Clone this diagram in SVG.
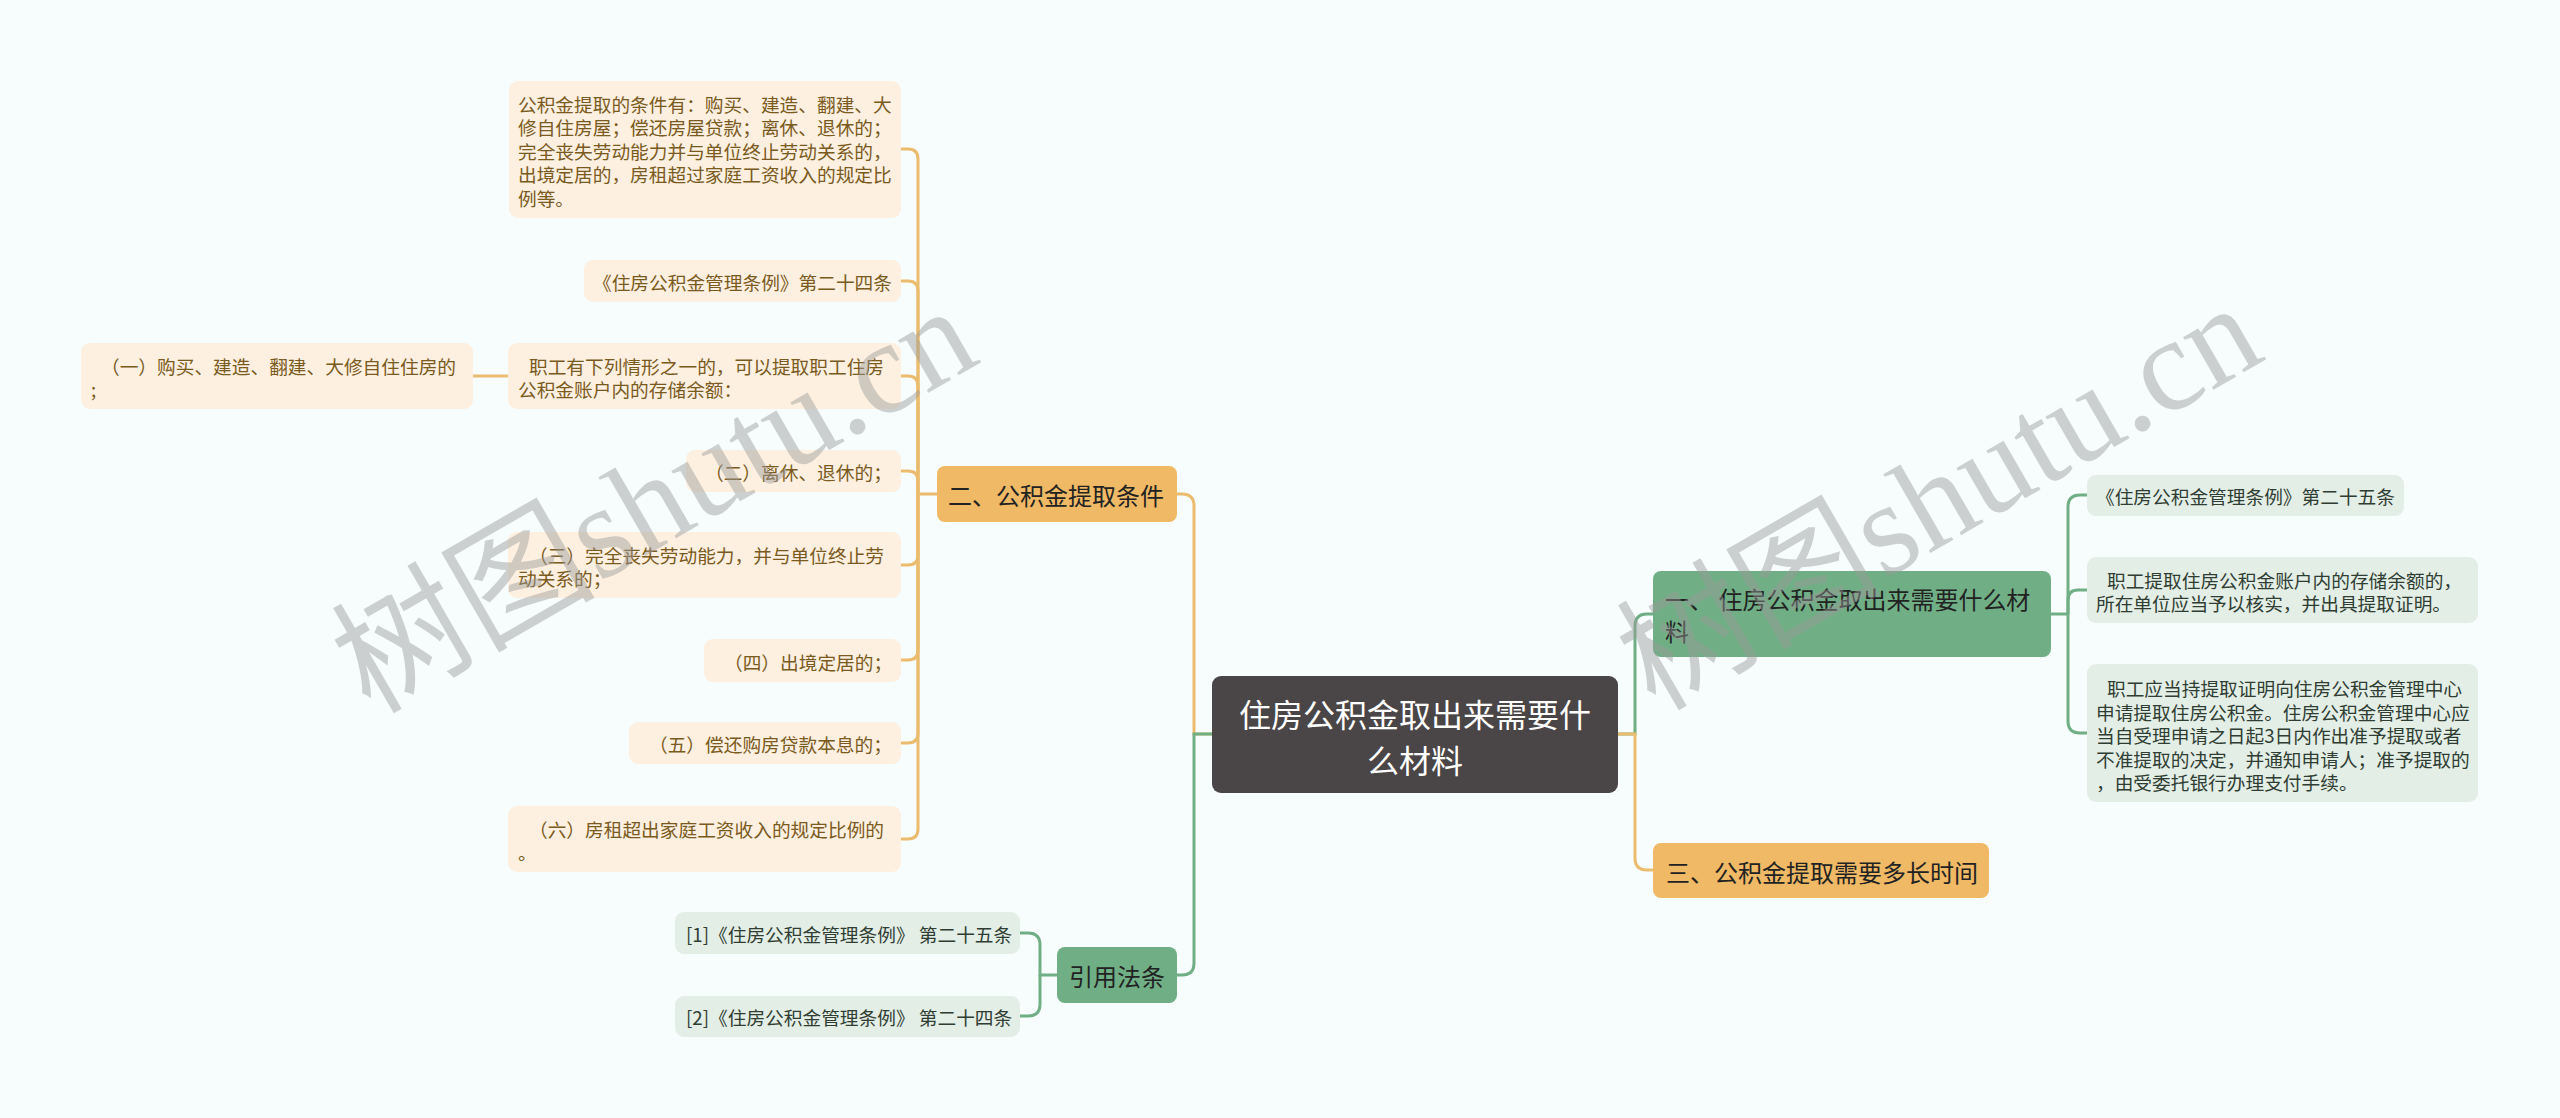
<svg xmlns="http://www.w3.org/2000/svg" width="2560" height="1118" viewBox="0 0 2560 1118">
<style>
text{font-family:"Noto Sans CJK SC","Noto Sans",sans-serif;dominant-baseline:central}
.lo{fill:#fdf0e0}
.lg{fill:#e3eee6}
.to{fill:#7b5a20;font-size:18.7px}
.tg{fill:#2f3d33;font-size:18.7px}
.t1{fill:#222;font-size:24px}
.co{fill:none;stroke:#ebbb6e;stroke-width:3}
.cg{fill:none;stroke:#70af85;stroke-width:3}
.wm{font-family:"Liberation Serif","Noto Sans CJK SC",serif;font-size:132px;fill:#9a9a9a;opacity:0.45;dominant-baseline:alphabetic}
</style>
<rect width="2560" height="1118" fill="#f7fcfc"/>
<g id="connectors">
<path class="co" d="M937,494 H918"/>
<path class="co" d="M918,494 V159 Q918,149 908,149 H901"/>
<path class="co" d="M918,494 V291 Q918,281 908,281 H901"/>
<path class="co" d="M918,494 V386 Q918,376 908,376 H901"/>
<path class="co" d="M918,494 V481 Q918,471 908,471 H901"/>
<path class="co" d="M918,494 V555 Q918,565 908,565 H901"/>
<path class="co" d="M918,494 V650 Q918,660 908,660 H901"/>
<path class="co" d="M918,494 V733 Q918,743 908,743 H901"/>
<path class="co" d="M918,494 V829 Q918,839 908,839 H901"/>
<path class="co" d="M473,376 H508"/>
<path class="co" d="M1212,734 H1194 V506 Q1194,494 1182,494 H1177"/>
<path class="cg" d="M1212,734 H1194 V963 Q1194,975 1182,975 H1177"/>
<path class="cg" d="M1057,975 H1040 V945 Q1040,933 1028,933 H1020"/>
<path class="cg" d="M1040,975 V1004 Q1040,1016 1028,1016 H1020"/>
<path class="cg" d="M1618,734 H1635 V626 Q1635,614 1647,614 H1653"/>
<path class="co" d="M1618,734 H1635 V858 Q1635,870 1647,870 H1653"/>
<path class="cg" d="M2051,614 H2068"/>
<path class="cg" d="M2068,614 V507 Q2068,495 2080,495 H2087"/>
<path class="cg" d="M2068,614 V600 Q2068,590 2078,590 H2087"/>
<path class="cg" d="M2068,614 V721 Q2068,733 2080,733 H2087"/>
</g>
<g id="root">
<rect x="1212" y="676" width="406" height="117" rx="9" fill="#4a4546"/>
<text x="1415" y="713" text-anchor="middle" fill="#fff" font-size="32">住房公积金取出来需要什</text>
<text x="1415" y="759" text-anchor="middle" fill="#fff" font-size="32">么材料</text>
</g>
<g id="n-tiaojian">
<rect x="937" y="466" width="240" height="56" rx="8" fill="#f0b965"/>
<text class="t1" x="948" y="494">二、公积金提取条件</text>
</g>
<g id="n-c1">
<rect class="lo" x="509" y="81" width="392" height="137" rx="9"/>
<text class="to" x="518" y="103">公积金提取的条件有：购买、建造、翻建、大</text>
<text class="to" x="518" y="126.5">修自住房屋；偿还房屋贷款；离休、退休的；</text>
<text class="to" x="518" y="150">完全丧失劳动能力并与单位终止劳动关系的，</text>
<text class="to" x="518" y="173.5">出境定居的，房租超过家庭工资收入的规定比</text>
<text class="to" x="518" y="197">例等。</text>
</g>
<g id="n-c2">
<rect class="lo" x="584" y="260" width="317" height="42" rx="9"/>
<text class="to" x="593" y="281">《住房公积金管理条例》第二十四条</text>
</g>
<g id="n-c3">
<rect class="lo" x="508" y="343" width="393" height="66" rx="9"/>
<text class="to" x="529" y="365">职工有下列情形之一的，可以提取职工住房</text>
<text class="to" x="518" y="388.5">公积金账户内的存储余额：</text>
</g>
<g id="n-c3a">
<rect class="lo" x="81" y="343" width="392" height="66" rx="9"/>
<text class="to" x="101" y="365">（一）购买、建造、翻建、大修自住住房的</text>
<text class="to" x="91" y="388.5">;</text>
</g>
<g id="n-c4">
<rect class="lo" x="686" y="450" width="215" height="42" rx="9"/>
<text class="to" x="705" y="471">（二）离休、退休的；</text>
</g>
<g id="n-c5">
<rect class="lo" x="508" y="532" width="393" height="66" rx="9"/>
<text class="to" x="529" y="554">（三）完全丧失劳动能力，并与单位终止劳</text>
<text class="to" x="518" y="577.5">动关系的；</text>
</g>
<g id="n-c6">
<rect class="lo" x="704" y="639" width="197" height="43" rx="9"/>
<text class="to" x="724" y="661">（四）出境定居的；</text>
</g>
<g id="n-c7">
<rect class="lo" x="629" y="722" width="272" height="42" rx="9"/>
<text class="to" x="649" y="743.5">（五）偿还购房贷款本息的；</text>
</g>
<g id="n-c8">
<rect class="lo" x="508" y="806" width="393" height="66" rx="9"/>
<text class="to" x="529" y="828">（六）房租超出家庭工资收入的规定比例的</text>
<text class="to" x="518" y="851.5">。</text>
</g>
<g id="n-yinyong">
<rect x="1057" y="947" width="120" height="56" rx="8" fill="#70af85"/>
<text class="t1" x="1117" y="975" text-anchor="middle">引用法条</text>
</g>
<g id="n-ref1">
<rect class="lg" x="675" y="912" width="345" height="42" rx="9"/>
<text class="tg" x="686" y="933">[1]《住房公积金管理条例》 第二十五条</text>
</g>
<g id="n-ref2">
<rect class="lg" x="675" y="996" width="345" height="41" rx="9"/>
<text class="tg" x="686" y="1016.5">[2]《住房公积金管理条例》 第二十四条</text>
</g>
<g id="n-cailiao">
<rect x="1653" y="571" width="398" height="86" rx="8" fill="#70af85"/>
<text class="t1" x="1665" y="598">一、 住房公积金取出来需要什么材</text>
<text class="t1" x="1665" y="630">料</text>
</g>
<g id="n-r1">
<rect class="lg" x="2087" y="475" width="317" height="41" rx="9"/>
<text class="tg" x="2096" y="495.5">《住房公积金管理条例》第二十五条</text>
</g>
<g id="n-r2">
<rect class="lg" x="2087" y="557" width="391" height="66" rx="9"/>
<text class="tg" x="2107" y="579">职工提取住房公积金账户内的存储余额的，</text>
<text class="tg" x="2096" y="602.5">所在单位应当予以核实，并出具提取证明。</text>
</g>
<g id="n-r3">
<rect class="lg" x="2087" y="664" width="391" height="138" rx="9"/>
<text class="tg" x="2107" y="687.5">职工应当持提取证明向住房公积金管理中心</text>
<text class="tg" x="2096" y="711">申请提取住房公积金。住房公积金管理中心应</text>
<text class="tg" x="2096" y="734.5">当自受理申请之日起3日内作出准予提取或者</text>
<text class="tg" x="2096" y="758">不准提取的决定，并通知申请人；准予提取的</text>
<text class="tg" x="2096" y="781.5">，由受委托银行办理支付手续。</text>
</g>
<g id="n-shijian">
<rect x="1653" y="843" width="336" height="55" rx="8" fill="#f0b965"/>
<text class="t1" x="1666" y="871">三、公积金提取需要多长时间</text>
</g>
<g id="watermark">
<text class="wm" transform="translate(370,715) rotate(-30)">树图shutu.cn</text>
<text class="wm" transform="translate(1655,712) rotate(-30)">树图shutu.cn</text>
</g>
</svg>
